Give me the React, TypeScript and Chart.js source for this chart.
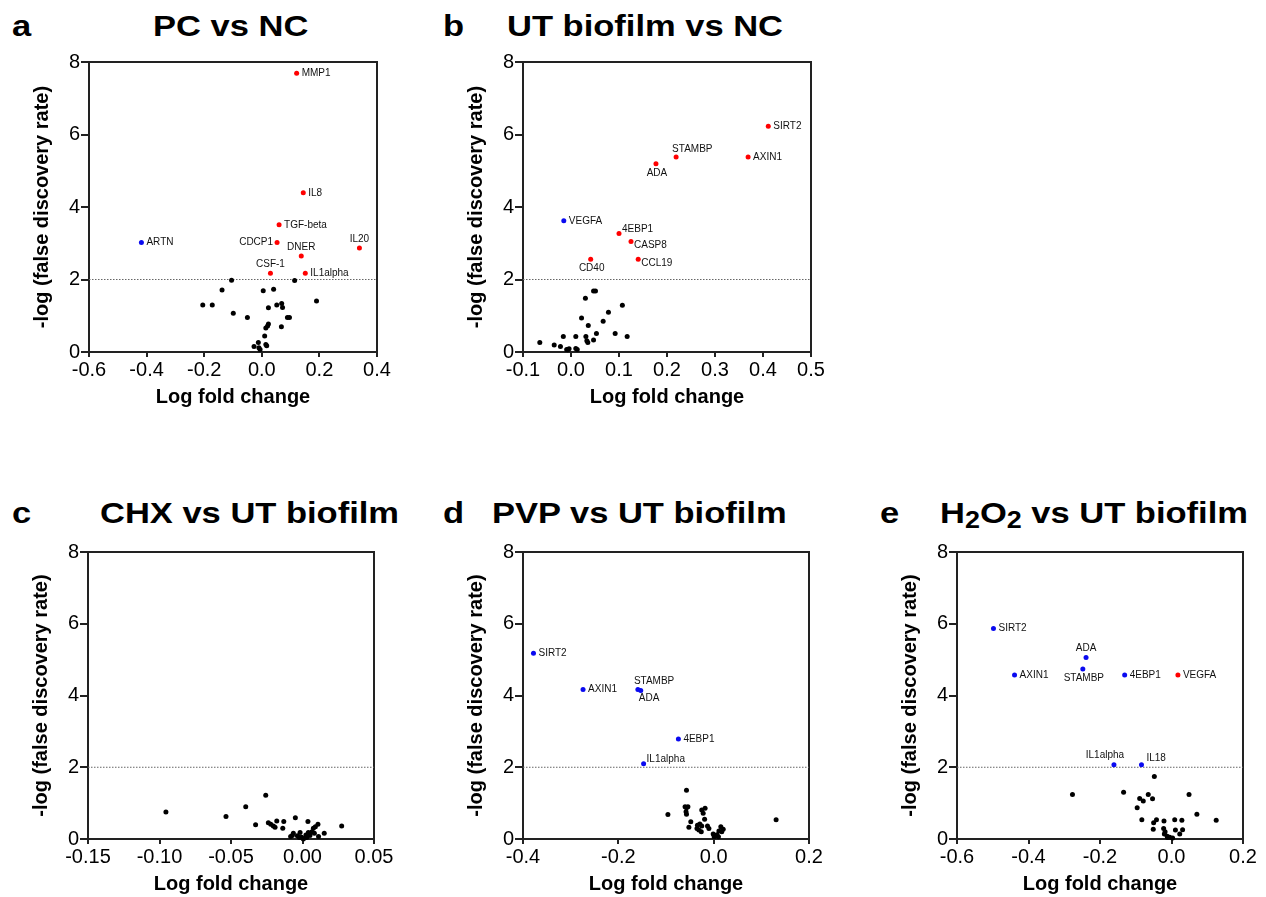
import React, { useEffect, useRef } from 'react';
import { Chart, registerables } from 'chart.js';

Chart.register(...registerables);

const FONT = '"Liberation Sans", Arial, Helvetica, sans-serif';

// ---------- shared ----------
const yTickValues = [0, 2, 4, 6, 8];
const fdrThreshold = 2;

// ---------- panel a: PC vs NC ----------
const aXTicks = [-0.6, -0.4, -0.2, 0, 0.2, 0.4];
const aBlackX = [-0.105, 0.114, -0.138, 0.005, 0.041, -0.205, -0.172, 0.190, 0.023, 0.052, 0.069, 0.072, -0.099, -0.050, 0.089, 0.096, 0.023, 0.020, 0.014, 0.068, 0.010, -0.012, -0.027, -0.010, -0.006, 0.014, 0.017];
const aBlackY = [1.98, 1.97, 1.71, 1.69, 1.73, 1.30, 1.30, 1.41, 1.22, 1.30, 1.34, 1.23, 1.07, 0.95, 0.95, 0.95, 0.77, 0.72, 0.66, 0.70, 0.44, 0.26, 0.15, 0.12, 0.07, 0.21, 0.17];
const aRedGenes = ['MMP1', 'IL8', 'TGF-beta', 'CDCP1', 'IL20', 'DNER', 'CSF-1', 'IL1alpha'];
const aRedX = [0.121, 0.144, 0.060, 0.053, 0.339, 0.137, 0.030, 0.151];
const aRedY = [7.69, 4.39, 3.51, 3.02, 2.87, 2.65, 2.17, 2.17];
const aRedPos = ['r', 'r', 'r', 'l', 't', 't', 't', 'r'];
const aBlueGenes = ['ARTN'];
const aBlueX = [-0.418];
const aBlueY = [3.02];
const aBluePos = ['r'];

// ---------- panel b: UT biofilm vs NC ----------
const bXTicks = [-0.1, 0, 0.1, 0.2, 0.3, 0.4, 0.5];
const bBlackX = [-0.065, -0.035, -0.022, -0.016, -0.009, -0.004, -0.007, 0.010, 0.010, 0.013, 0.022, 0.030, 0.036, 0.031, 0.035, 0.033, 0.047, 0.053, 0.047, 0.051, 0.067, 0.078, 0.092, 0.107, 0.117];
const bBlackY = [0.26, 0.19, 0.15, 0.43, 0.07, 0.09, 0.06, 0.43, 0.10, 0.07, 0.94, 1.48, 0.73, 0.43, 0.26, 0.31, 0.33, 0.51, 1.68, 1.68, 0.85, 1.10, 0.51, 1.29, 0.43];
const bRedGenes = ['SIRT2', 'STAMBP', 'AXIN1', 'ADA', '4EBP1', 'CASP8', 'CCL19', 'CD40'];
const bRedX = [0.411, 0.219, 0.369, 0.177, 0.100, 0.125, 0.140, 0.041];
const bRedY = [6.23, 5.38, 5.38, 5.19, 3.27, 3.05, 2.56, 2.56];
const bRedPos = ['r', 'ta', 'r', 'b', 'ur', 'dr', 'dr', 'b'];
const bBlueGenes = ['VEGFA'];
const bBlueX = [-0.015];
const bBlueY = [3.62];
const bBluePos = ['r'];

// ---------- panel c: CHX vs UT biofilm ----------
const cXTicks = [-0.15, -0.1, -0.05, 0, 0.05];
const cBlackX = [-0.0955, -0.0535, -0.0397, -0.0257, -0.0328, -0.0239, -0.0222, -0.0204, -0.0192, -0.018, -0.0131, -0.0138, -0.005, 0.0038, 0.0108, 0.009, 0.0076, 0.0274, 0.0152, 0.0112, -0.0071, -0.0083, -0.0064, -0.0036, -0.0017, -0.0006, 0.0006, 0.0024, 0.0041, 0.0052, 0.0066, 0.0083, 0.0029, -0.0022];
const cBlackY = [0.75, 0.63, 0.90, 1.22, 0.40, 0.45, 0.41, 0.36, 0.33, 0.50, 0.49, 0.30, 0.59, 0.49, 0.41, 0.34, 0.30, 0.36, 0.16, 0.07, 0.10, 0.07, 0.16, 0.09, 0.18, 0.05, 0.00, 0.11, 0.18, 0.10, 0.20, 0.16, 0.04, 0.04];

// ---------- panel d: PVP vs UT biofilm ----------
const dXTicks = [-0.4, -0.2, 0, 0.2];
const dBlackX = [-0.096, -0.057, -0.060, -0.057, -0.054, -0.058, -0.057, -0.048, -0.052, -0.034, -0.029, -0.025, -0.035, -0.031, -0.026, -0.025, -0.018, -0.022, -0.019, -0.013, -0.010, -0.001, 0.003, 0.007, 0.010, 0.001, 0.015, 0.020, 0.011, 0.017, 0.131];
const dBlackY = [0.68, 1.36, 0.90, 0.87, 0.90, 0.76, 0.69, 0.48, 0.33, 0.38, 0.42, 0.36, 0.29, 0.25, 0.20, 0.81, 0.86, 0.72, 0.55, 0.36, 0.29, 0.14, 0.09, 0.12, 0.06, 0.06, 0.34, 0.27, 0.22, 0.20, 0.54];
const dBlueGenes = ['SIRT2', 'AXIN1', 'STAMBP', 'ADA', '4EBP1', 'IL1alpha'];
const dBlueX = [-0.378, -0.274, -0.159, -0.153, -0.074, -0.147];
const dBlueY = [5.18, 4.17, 4.17, 4.14, 2.79, 2.10];
const dBluePos = ['r', 'r', 'ta', 'ba', 'r', 'ur'];

// ---------- panel e: H2O2 vs UT biofilm ----------
const eXTicks = [-0.6, -0.4, -0.2, 0, 0.2];
const eBlackX = [-0.277, -0.134, -0.048, -0.065, -0.089, -0.079, -0.053, -0.096, -0.083, -0.042, -0.050, -0.051, -0.021, 0.009, 0.029, 0.049, 0.071, 0.125, 0.011, 0.023, 0.031, -0.022, -0.018, -0.020, -0.012, -0.005, 0.003, -0.011];
const eBlackY = [1.24, 1.30, 1.74, 1.24, 1.13, 1.06, 1.12, 0.87, 0.54, 0.54, 0.45, 0.27, 0.50, 0.54, 0.52, 1.24, 0.69, 0.52, 0.25, 0.14, 0.26, 0.29, 0.20, 0.14, 0.08, 0.05, 0.03, 0.04];
const eBlueGenes = ['SIRT2', 'ADA', 'STAMBP', 'AXIN1', '4EBP1', 'IL1alpha', 'IL18'];
const eBlueX = [-0.498, -0.239, -0.248, -0.439, -0.131, -0.161, -0.084];
const eBlueY = [5.87, 5.06, 4.74, 4.57, 4.57, 2.07, 2.07];
const eBluePos = ['r', 't', 'b', 'r', 'r', 'tl', 'ur2'];
const eRedGenes = ['VEGFA'];
const eRedX = [0.018];
const eRedY = [4.57];
const eRedPos = ['r'];

// ---------- styling / layout ----------
const PLACE: Record<string, { align: CanvasTextAlign; dx: number; dy: number }> = {
  r: { align: 'left', dx: 5, dy: 0 },
  l: { align: 'right', dx: -4, dy: 0 },
  t: { align: 'center', dx: 0, dy: -9 },
  b: { align: 'center', dx: 1, dy: 9 },
  ur: { align: 'left', dx: 3, dy: -4 },
  dr: { align: 'left', dx: 3, dy: 4 },
  ta: { align: 'left', dx: -4, dy: -8 },
  ba: { align: 'left', dx: -2, dy: 8 },
  tl: { align: 'center', dx: -9, dy: -9 },
  ur2: { align: 'left', dx: 5, dy: -6 },
};

const RED = '#ff0000';
const BLUE = '#0a0af0';
const BLACK = '#000000';
const AXIS = '#222222';

const Y_W = 70;
const X_H = 60;
const PAD_T = 14;
const PAD_R = 22;

type Group = { genes?: string[]; x: number[]; y: number[]; pos?: string[]; color: string };
type Spec = {
  key: string;
  xTicks: number[];
  decimals: number;
  groups: Group[];
  box: { left: number; top: number; width: number; height: number };
};

const SPECS: Spec[] = [
  {
    key: 'a', xTicks: aXTicks, decimals: 1,
    groups: [
      { x: aBlackX, y: aBlackY, color: BLACK },
      { genes: aRedGenes, x: aRedX, y: aRedY, pos: aRedPos, color: RED },
      { genes: aBlueGenes, x: aBlueX, y: aBlueY, pos: aBluePos, color: BLUE },
    ],
    box: { left: 89, top: 62, width: 288, height: 290 },
  },
  {
    key: 'b', xTicks: bXTicks, decimals: 1,
    groups: [
      { x: bBlackX, y: bBlackY, color: BLACK },
      { genes: bRedGenes, x: bRedX, y: bRedY, pos: bRedPos, color: RED },
      { genes: bBlueGenes, x: bBlueX, y: bBlueY, pos: bBluePos, color: BLUE },
    ],
    box: { left: 523, top: 62, width: 288, height: 290 },
  },
  {
    key: 'c', xTicks: cXTicks, decimals: 2,
    groups: [{ x: cBlackX, y: cBlackY, color: BLACK }],
    box: { left: 88, top: 552, width: 286, height: 287 },
  },
  {
    key: 'd', xTicks: dXTicks, decimals: 1,
    groups: [
      { x: dBlackX, y: dBlackY, color: BLACK },
      { genes: dBlueGenes, x: dBlueX, y: dBlueY, pos: dBluePos, color: BLUE },
    ],
    box: { left: 523, top: 552, width: 286, height: 287 },
  },
  {
    key: 'e', xTicks: eXTicks, decimals: 1,
    groups: [
      { x: eBlackX, y: eBlackY, color: BLACK },
      { genes: eBlueGenes, x: eBlueX, y: eBlueY, pos: eBluePos, color: BLUE },
      { genes: eRedGenes, x: eRedX, y: eRedY, pos: eRedPos, color: RED },
    ],
    box: { left: 957, top: 552, width: 286, height: 287 },
  },
];

const framePlugin = {
  id: 'frameBox',
  beforeDatasetsDraw(chart: any) {
    const { ctx, chartArea } = chart;
    ctx.save();
    ctx.strokeStyle = AXIS;
    ctx.lineWidth = 2;
    ctx.strokeRect(chartArea.left, chartArea.top, chartArea.right - chartArea.left, chartArea.bottom - chartArea.top);
    ctx.restore();
  },
};

const labelPlugin = {
  id: 'geneLabels',
  afterDatasetsDraw(chart: any) {
    const ctx = chart.ctx;
    ctx.save();
    ctx.font = `10px ${FONT}`;
    ctx.fillStyle = '#111';
    ctx.textBaseline = 'middle';
    chart.data.datasets.forEach((ds: any, i: number) => {
      if (!ds.genes) return;
      const meta = chart.getDatasetMeta(i);
      meta.data.forEach((pt: any, j: number) => {
        const p = PLACE[ds.labelPos[j]] || PLACE.r;
        ctx.textAlign = p.align;
        ctx.fillText(ds.genes[j], pt.x + p.dx, pt.y + p.dy);
      });
    });
    ctx.restore();
  },
};

function VolcanoPanel({ spec }: { spec: Spec }) {
  const ref = useRef<HTMLCanvasElement>(null);
  const { box } = spec;
  const cw = Y_W + box.width + PAD_R;
  const ch = PAD_T + box.height + X_H;

  useEffect(() => {
    const canvas = ref.current;
    if (!canvas) return;
    const xMin = spec.xTicks[0];
    const xMax = spec.xTicks[spec.xTicks.length - 1];
    const datasets: any[] = spec.groups.map((g) => ({
      data: g.x.map((x, i) => ({ x, y: g.y[i] })),
      genes: g.genes,
      labelPos: g.pos,
      backgroundColor: g.color,
      borderColor: g.color,
      borderWidth: 0,
      pointRadius: 2.5,
      pointHoverRadius: 2.5,
      clip: false,
    }));
    datasets.push({
      data: [{ x: xMin, y: fdrThreshold }, { x: xMax, y: fdrThreshold }],
      showLine: true,
      borderColor: '#666',
      borderWidth: 1,
      borderDash: [1.5, 1.5],
      pointRadius: 0,
      fill: false,
    });

    const tickFont = { family: FONT, size: 20 };
    const titleFont = { family: FONT, size: 20, weight: 'bold' as const };

    const chart = new Chart(canvas, {
      type: 'scatter',
      data: { datasets },
      options: {
        responsive: false,
        animation: false,
        devicePixelRatio: 1,
        layout: { padding: { left: 0, top: PAD_T, right: PAD_R, bottom: 0 } },
        plugins: { legend: { display: false }, tooltip: { enabled: false }, title: { display: false } },
        events: [],
        scales: {
          x: {
            type: 'linear',
            min: xMin,
            max: xMax,
            afterBuildTicks: (s: any) => {
              s.ticks = spec.xTicks.map((v) => ({ value: v }));
            },
            afterFit: (s: any) => {
              s.height = X_H;
              s.paddingLeft = 0;
              s.paddingRight = 0;
            },
            ticks: {
              callback: (v: any) => Number(v).toFixed(spec.decimals),
              font: tickFont,
              color: '#000',
              padding: 1,
              maxRotation: 0,
              autoSkip: false,
            },
            grid: { drawOnChartArea: false, drawTicks: true, tickLength: 5, color: AXIS, lineWidth: 2 },
            border: { display: true, color: AXIS, width: 2 },
            title: {
              display: true,
              text: 'Log fold change',
              font: titleFont,
              color: '#000',
              padding: { top: 0, bottom: 3 },
            },
          },
          y: {
            type: 'linear',
            min: 0,
            max: 8,
            afterBuildTicks: (s: any) => {
              s.ticks = yTickValues.map((v) => ({ value: v }));
            },
            afterFit: (s: any) => {
              s.width = Y_W;
              s.paddingTop = 0;
              s.paddingBottom = 0;
            },
            ticks: {
              callback: (v: any) => String(v),
              font: tickFont,
              color: '#000',
              padding: 1,
            },
            grid: { drawOnChartArea: false, drawTicks: true, tickLength: 8, color: AXIS, lineWidth: 2 },
            border: { display: true, color: AXIS, width: 2 },
            title: {
              display: true,
              text: '-log (false discovery rate)',
              font: titleFont,
              color: '#000',
              padding: { top: 11, bottom: 0 },
            },
          },
        },
      } as any,
      plugins: [framePlugin, labelPlugin],
    });
    return () => chart.destroy();
  }, []);

  return (
    <canvas
      ref={ref}
      width={cw}
      height={ch}
      style={{ position: 'absolute', left: box.left - Y_W, top: box.top - PAD_T, width: cw, height: ch }}
    />
  );
}

const TITLE_SIZE = 30;
const titleStyle: React.CSSProperties = {
  position: 'absolute',
  fontFamily: FONT,
  fontWeight: 'bold',
  fontSize: TITLE_SIZE,
  lineHeight: `${TITLE_SIZE}px`,
  whiteSpace: 'nowrap',
  color: '#000',
  transform: 'scaleX(1.15)',
  transformOrigin: 'left top',
};

const sub: React.CSSProperties = { fontSize: '0.78em', position: 'relative', top: '0.24em' };

export default function App() {
  // baseline = top + 0.8465 * size
  const row1Top = 36 - 0.8465 * TITLE_SIZE;
  const row2Top = 523 - 0.8465 * TITLE_SIZE;
  return (
    <div style={{ position: 'absolute', left: 0, top: 0, width: 1266, height: 897, background: '#fff', overflow: 'hidden' }}>
      <div style={{ ...titleStyle, left: 12, top: row1Top }}>a</div>
      <div style={{ ...titleStyle, left: 153, top: row1Top }}>PC vs NC</div>
      <div style={{ ...titleStyle, left: 443, top: row1Top }}>b</div>
      <div style={{ ...titleStyle, left: 507, top: row1Top }}>UT biofilm vs NC</div>
      <div style={{ ...titleStyle, left: 12, top: row2Top }}>c</div>
      <div style={{ ...titleStyle, left: 100, top: row2Top }}>CHX vs UT biofilm</div>
      <div style={{ ...titleStyle, left: 443, top: row2Top }}>d</div>
      <div style={{ ...titleStyle, left: 492, top: row2Top }}>PVP vs UT biofilm</div>
      <div style={{ ...titleStyle, left: 880, top: row2Top }}>e</div>
      <div style={{ ...titleStyle, left: 940, top: row2Top }}>
        H<span style={sub}>2</span>O<span style={sub}>2</span> vs UT biofilm
      </div>
      {SPECS.map((s) => (
        <VolcanoPanel key={s.key} spec={s} />
      ))}
    </div>
  );
}
